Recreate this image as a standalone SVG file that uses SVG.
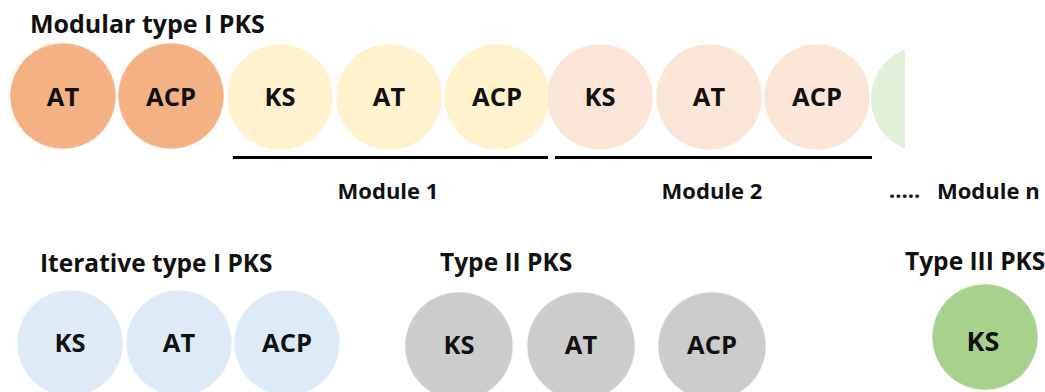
<svg xmlns="http://www.w3.org/2000/svg" width="1045" height="392" viewBox="0 0 1045 392">
<style>
  text { font-family: "Open Sans", "Liberation Sans", sans-serif; font-weight: bold; fill: #111; }
  .title { font-size: 24.5px; }
  .mod { font-size: 22px; }
  .lbl { font-size: 25.5px; text-anchor: middle; }
  circle { stroke: #ffffff; stroke-opacity: 0.5; stroke-width: 1; }
  .orange { fill: #F4B183; }
  .yellow { fill: #FFF2CC; }
  .pink { fill: #FBE5D6; }
  .lgreen { fill: #E2F0D9; }
  .blue { fill: #DEEBF7; }
  .gray { fill: #CDCCCC; }
  .green { fill: #A9D18E; }
  .bar { stroke: #000; stroke-width: 3; }
</style>
<defs>
  <clipPath id="halfclip"><rect x="860" y="30" width="45" height="140"/></clipPath>
</defs>
<rect width="1045" height="392" fill="#ffffff"/>

<text class="title" x="30" y="33" style="font-size:25px">Modular type I PKS</text>

<g id="load-AT"><circle class="orange" cx="63" cy="96" r="53"/><text class="lbl" x="63" y="106">AT</text></g>
<g id="load-ACP"><circle class="orange" cx="171" cy="96" r="53"/><text class="lbl" x="171" y="106">ACP</text></g>

<g id="m1-KS"><circle class="yellow" cx="280" cy="97" r="53"/><text class="lbl" x="280" y="106">KS</text></g>
<g id="m1-AT"><circle class="yellow" cx="389" cy="97" r="53"/><text class="lbl" x="389" y="106">AT</text></g>
<g id="m1-ACP"><circle class="yellow" cx="497" cy="97" r="53"/><text class="lbl" x="497" y="106">ACP</text></g>

<g id="m2-KS"><circle class="pink" cx="600" cy="97" r="53"/><text class="lbl" x="600" y="106">KS</text></g>
<g id="m2-AT"><circle class="pink" cx="709" cy="97" r="53"/><text class="lbl" x="709" y="106">AT</text></g>
<g id="m2-ACP"><circle class="pink" cx="817" cy="97" r="53"/><text class="lbl" x="817" y="106">ACP</text></g>

<g id="mn-partial"><circle class="lgreen" cx="924" cy="99" r="53" clip-path="url(#halfclip)" style="stroke:none"/></g>

<g id="connectors">
  <line class="bar" x1="233" y1="157.5" x2="548" y2="157.5"/>
  <line class="bar" x1="555" y1="157.5" x2="872" y2="157.5"/>
</g>

<g id="module-labels">
  <text class="mod" x="388" y="199" text-anchor="middle">Module 1</text>
  <text class="mod" x="712" y="199" text-anchor="middle">Module 2</text>
  <text class="mod" x="889" y="198">.....</text>
  <text class="mod" x="937" y="199">Module n</text>
</g>

<text class="title" x="40" y="272">Iterative type I PKS</text>
<g id="it-KS"><circle class="blue" cx="70" cy="343" r="53"/><text class="lbl" x="70" y="352">KS</text></g>
<g id="it-AT"><circle class="blue" cx="179" cy="343" r="53"/><text class="lbl" x="179" y="352">AT</text></g>
<g id="it-ACP"><circle class="blue" cx="287" cy="343" r="53"/><text class="lbl" x="287" y="352">ACP</text></g>

<text class="title" x="440" y="271">Type II PKS</text>
<g id="t2-KS"><circle class="gray" cx="459" cy="346" r="54"/><text class="lbl" x="459" y="354">KS</text></g>
<g id="t2-AT"><circle class="gray" cx="581" cy="346" r="54"/><text class="lbl" x="581" y="354">AT</text></g>
<g id="t2-ACP"><circle class="gray" cx="712" cy="346" r="54"/><text class="lbl" x="712" y="354">ACP</text></g>

<text class="title" x="905" y="270">Type III PKS</text>
<g id="t3-KS"><circle class="green" cx="985" cy="337" r="53"/><text class="lbl" x="983" y="351" style="font-size:27px">KS</text></g>
</svg>
